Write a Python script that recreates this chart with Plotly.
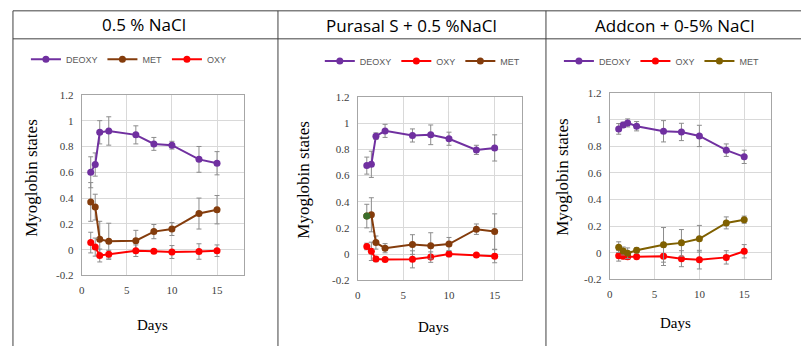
import plotly.graph_objects as go

W, H = 801, 352

days = [1, 1.5, 2, 3, 6, 8, 10, 13, 15]

# Panel 1: 0.5 % NaCl
p1_deoxy = [0.60, 0.66, 0.91, 0.92, 0.89, 0.82, 0.81, 0.70, 0.67]
p1_deoxy_err = [0.12, 0.09, 0.09, 0.11, 0.07, 0.05, 0.03, 0.10, 0.09]
p1_met = [0.37, 0.33, 0.08, 0.065, 0.07, 0.14, 0.16, 0.28, 0.31]
p1_met_err = [0.15, 0.10, 0.14, 0.14, 0.08, 0.055, 0.05, 0.12, 0.11]
p1_oxy = [0.055, 0.02, -0.045, -0.035, -0.008, -0.012, -0.018, -0.014, -0.008]
p1_oxy_err = [0.08, 0.07, 0.05, 0.03, 0.045, 0.01, 0.05, 0.06, 0.045]

# Panel 2: Purasal S + 0.5 %NaCl
p2_deoxy = [0.675, 0.685, 0.90, 0.94, 0.905, 0.91, 0.88, 0.795, 0.81]
p2_deoxy_err = [0.065, 0.10, 0.025, 0.05, 0.05, 0.075, 0.05, 0.035, 0.10]
p2_oxy = [0.058, 0.021, -0.038, -0.042, -0.04, -0.023, 0.0, -0.007, -0.016]
p2_oxy_err = [0.025, 0.07, 0.02, 0.01, 0.065, 0.04, 0.02, 0.01, 0.05]
p2_met = [0.29, 0.30, 0.088, 0.045, 0.073, 0.063, 0.077, 0.19, 0.172]
p2_met_err = [0.09, 0.13, 0.05, 0.035, 0.075, 0.10, 0.05, 0.04, 0.135]

# Panel 3: Addcon + 0-5% NaCl
p3_deoxy = [0.93, 0.96, 0.975, 0.95, 0.912, 0.907, 0.877, 0.77, 0.72]
p3_deoxy_err = [0.04, 0.02, 0.03, 0.035, 0.08, 0.065, 0.08, 0.047, 0.05]
p3_oxy = [-0.023, -0.026, -0.03, -0.03, -0.026, -0.045, -0.052, -0.035, 0.011]
p3_oxy_err = [0.04, 0.02, 0.02, 0.01, 0.07, 0.06, 0.07, 0.05, 0.05]
p3_met = [0.042, 0.013, -0.004, 0.018, 0.059, 0.074, 0.105, 0.224, 0.248]
p3_met_err = [0.04, 0.03, 0.04, 0.02, 0.13, 0.10, 0.10, 0.045, 0.027]

panel_titles = ["0.5 % NaCl", "Purasal S + 0.5 %NaCl", "Addcon + 0-5% NaCl"]
y_tickvals = [-0.2, 0, 0.2, 0.4, 0.6, 0.8, 1.0, 1.2]
y_ticktext = ["-0.2", "0", "0.2", "0.4", "0.6", "0.8", "1", "1.2"]
x_tickvals = [0, 5, 10, 15]
x_ticktext = ["0", "5", "10", "15"]

PURPLE = "#7030A0"
RED = "#FF0000"
BROWN = "#843C0C"
OLIVE = "#7F6000"
GREEN = "#3C6E2A"
ERR = "#8C8C8C"


def px_x(p):
    return p / W


def px_y(p):
    return 1 - p / H


fig = go.Figure()


def ax(axis_id):
    s = "" if axis_id == 1 else str(axis_id)
    return "x" + s, "y" + s


def add(series, err, name, color, axis_id, legend_id):
    xa, ya = ax(axis_id)
    fig.add_trace(go.Scatter(
        x=days, y=series, name=name, mode="lines+markers",
        line=dict(color=color, width=2),
        marker=dict(color=color, size=7),
        error_y=dict(type="data", array=err, color=ERR, thickness=1, width=2.5),
        xaxis=xa, yaxis=ya, legend=legend_id,
    ))


add(p1_deoxy, p1_deoxy_err, "DEOXY", PURPLE, 1, "legend")
add(p1_met, p1_met_err, "MET", BROWN, 1, "legend")
add(p1_oxy, p1_oxy_err, "OXY", RED, 1, "legend")

add(p2_deoxy, p2_deoxy_err, "DEOXY", PURPLE, 2, "legend2")
add(p2_oxy, p2_oxy_err, "OXY", RED, 2, "legend2")
add(p2_met, p2_met_err, "MET", BROWN, 2, "legend2")
# first MET point of panel 2 is drawn in a different (green) colour in the source
xa2, ya2 = ax(2)
fig.add_trace(go.Scatter(
    x=days[:1], y=p2_met[:1], mode="markers", showlegend=False,
    marker=dict(color=GREEN, size=7), xaxis=xa2, yaxis=ya2, hoverinfo="skip",
))

add(p3_deoxy, p3_deoxy_err, "DEOXY", PURPLE, 3, "legend3")
add(p3_oxy, p3_oxy_err, "OXY", RED, 3, "legend3")
add(p3_met, p3_met_err, "MET", OLIVE, 3, "legend3")

# plot-area pixel boxes [left, right, top, bottom]
boxes = [(79, 242, 92, 279), (356, 521, 94, 284), (609, 771, 90, 283)]

tick_font = dict(family="Liberation Serif", size=11, color="#404040")
layout = dict(
    width=W, height=H, margin=dict(l=0, r=0, t=0, b=0),
    paper_bgcolor="white", plot_bgcolor="white",
    showlegend=True,
)
for i, (l, r, t, b) in enumerate(boxes, start=1):
    sfx = "" if i == 1 else str(i)
    layout["xaxis" + sfx] = dict(
        domain=[px_x(l), px_x(r)], range=[0, 18], anchor="y" + sfx,
        tickvals=x_tickvals, ticktext=x_ticktext, tickfont=tick_font,
        showgrid=True, gridcolor="#D9D9D9", gridwidth=1, zeroline=False,
        showline=True, linecolor="#A6A6A6", linewidth=1, mirror=True,
        ticks="", ticklabelstandoff=4,
    )
    layout["yaxis" + sfx] = dict(
        domain=[px_y(b), px_y(t)], range=[-0.2, 1.2], anchor="x" + sfx,
        tickvals=y_tickvals, ticktext=y_ticktext, tickfont=tick_font,
        showgrid=True, gridcolor="#D9D9D9", gridwidth=1, zeroline=False,
        showline=True, linecolor="#A6A6A6", linewidth=1, mirror=True,
        ticks="", ticklabelstandoff=5,
    )

legend_font = dict(family="Liberation Sans", size=9, color="#595959")
legend_pos = [(23, 55), (318, 57), (558, 57)]
for i, (lx, ly) in enumerate(legend_pos, start=1):
    key = "legend" if i == 1 else "legend" + str(i)
    layout[key] = dict(
        orientation="h", x=px_x(lx), y=px_y(ly), xanchor="left", yanchor="middle",
        font=legend_font, bgcolor="rgba(0,0,0,0)", itemwidth=30,
        traceorder="normal",
    )

fig.update_layout(**layout)

# table frame lines
line_col = "#404040"
shapes = []
shapes.append(dict(type="line", xref="paper", yref="paper", x0=px_x(10), x1=1, y0=px_y(5), y1=px_y(5),
                   line=dict(color=line_col, width=1)))
shapes.append(dict(type="line", xref="paper", yref="paper", x0=px_x(10), x1=1, y0=px_y(34), y1=px_y(34),
                   line=dict(color=line_col, width=1)))
for vx in (10, 276, 545):
    shapes.append(dict(type="line", xref="paper", yref="paper", x0=px_x(vx), x1=px_x(vx), y0=px_y(5), y1=0,
                       line=dict(color=line_col, width=1)))
fig.update_layout(shapes=shapes)

# header titles
title_pos = [(142, 19), (410, 20), (675, 20)]
for (tx, ty), txt in zip(title_pos, panel_titles):
    fig.add_annotation(text=txt, x=px_x(tx), y=px_y(ty), xref="paper", yref="paper",
                       showarrow=False, xanchor="center", yanchor="middle",
                       font=dict(family="Open Sans", size=17, color="#000000"))

# axis titles
ytitle_pos = [(29, 178), (302, 180), (562, 177)]
for (tx, ty) in ytitle_pos:
    fig.add_annotation(text="Myoglobin states", x=px_x(tx), y=px_y(ty), xref="paper", yref="paper",
                       showarrow=False, textangle=-90, xanchor="center", yanchor="middle",
                       font=dict(family="Liberation Serif", size=17, color="#000000"))
xtitle_pos = [(150, 330), (432, 332), (675, 328)]
for (tx, ty) in xtitle_pos:
    fig.add_annotation(text="Days", x=px_x(tx), y=px_y(ty), xref="paper", yref="paper",
                       showarrow=False, xanchor="center", yanchor="middle",
                       font=dict(family="Liberation Serif", size=15, color="#000000"))

fig.write_html(
    "out.html",
    config={"displayModeBar": False},
    post_script=(
        "document.documentElement.style.margin='0';"
        "document.documentElement.style.overflow='hidden';"
        "document.body.style.margin='0';"
        "document.body.style.overflow='hidden';"
    ),
)
